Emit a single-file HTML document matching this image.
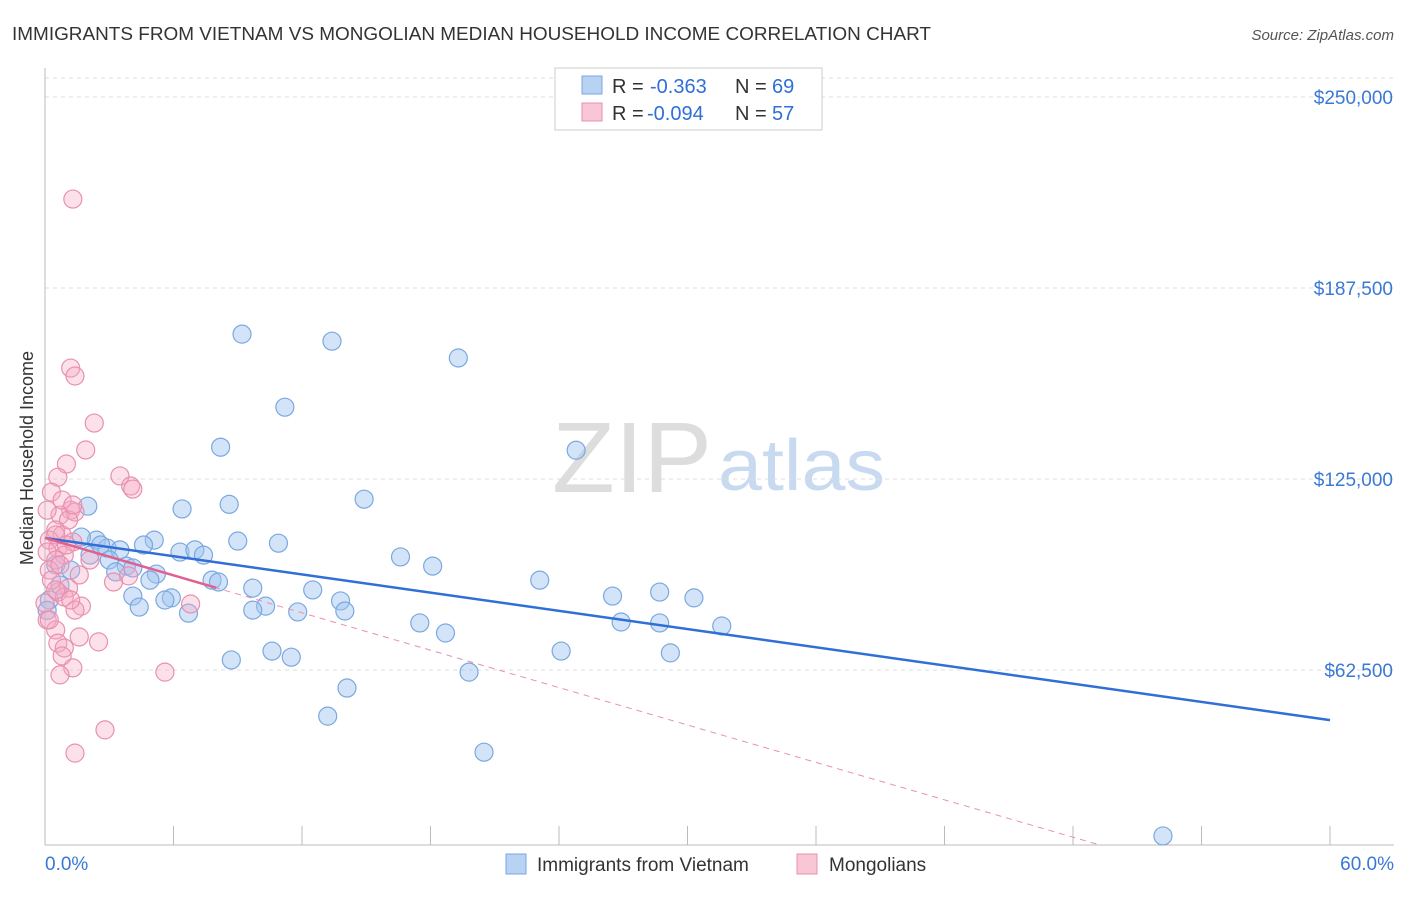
<!DOCTYPE html>
<html><head><meta charset="utf-8"><style>
body{margin:0;background:#fff;font-family:"Liberation Sans",sans-serif}
svg text{font-family:"Liberation Sans",sans-serif}
</style></head><body>
<svg id="chart" width="1406" height="892" xmlns="http://www.w3.org/2000/svg">
<text x="12" y="40" font-size="18.5" fill="#333" textLength="919" lengthAdjust="spacingAndGlyphs">IMMIGRANTS FROM VIETNAM VS MONGOLIAN MEDIAN HOUSEHOLD INCOME CORRELATION CHART</text>
<text x="1394" y="40" font-size="15" fill="#555" text-anchor="end" font-style="italic">Source: ZipAtlas.com</text>
<text x="33" y="458" font-size="18" fill="#333" text-anchor="middle" transform="rotate(-90 33 458)">Median Household Income</text>
<g><text x="552" y="492" font-size="100" fill="#ddd" font-family="Liberation Serif" textLength="160" lengthAdjust="spacingAndGlyphs">ZIP</text><text x="718" y="490" font-size="72" fill="#c8daf0" textLength="167" lengthAdjust="spacingAndGlyphs">atlas</text></g>
<g id="grid"></g><g id="marks"></g>
<g>
<rect x="555" y="68" width="267" height="62" fill="#fff" stroke="#ccc"/>
<rect x="582" y="76" width="20" height="18" fill="#b8d2f4" stroke="#7aa8e0"/>
<rect x="582" y="103" width="20" height="18" fill="#f9c6d6" stroke="#e890b0"/>
<text y="93" font-size="20" fill="#333"><tspan x="612">R = </tspan><tspan x="650" fill="#2f6fd6">-0.363</tspan><tspan x="735">N = </tspan><tspan x="772" fill="#2f6fd6">69</tspan></text>
<text y="120" font-size="20" fill="#333"><tspan x="612">R = </tspan><tspan x="647" fill="#2f6fd6">-0.094</tspan><tspan x="735">N = </tspan><tspan x="772" fill="#2f6fd6">57</tspan></text>
</g>
<g>
<rect x="506" y="854" width="20" height="20" fill="#b8d2f4" stroke="#7aa8e0"/>
<text x="537" y="871" font-size="19" fill="#333">Immigrants from Vietnam</text>
<rect x="797" y="854" width="20" height="20" fill="#f9c6d6" stroke="#e890b0"/>
<text x="829" y="871" font-size="19" fill="#333">Mongolians</text>
</g>
</svg>
<script>
const yTicks=[62500,125000,187500,250000];
const yTickLabels=["$62,500","$125,000","$187,500","$250,000"];
const xTicks=[0,6,12,18,24,30,36,42,48,54,60];
const blueX=[9.2,13.4,19.3,11.2,8.2,24.8,14.9,8.6,2.0,6.4,9.0,10.9,5.1,2.4,4.6,1.7,2.9,3.5,6.3,7.0,7.4,16.6,18.1,3.0,3.8,4.1,5.2,4.9,3.3,23.1,7.8,8.1,9.7,12.5,4.1,5.9,5.6,26.5,28.7,30.3,10.3,9.7,11.8,13.8,14.0,4.4,6.7,17.5,26.9,28.7,31.6,18.7,8.7,10.6,11.5,24.1,29.2,19.8,14.1,13.2,20.5,52.2,0.5,0.7,1.2,0.2,2.1,2.6,0.1];
const blueY=[172.4,170.1,164.6,148.5,135.4,134.4,118.4,116.7,116.1,115.2,104.7,104.0,105.0,105.0,103.4,106.0,102.4,101.8,101.1,101.8,100.1,99.5,96.5,98.5,96.5,95.9,93.9,91.9,94.6,91.9,91.9,91.3,89.3,88.7,86.7,86.1,85.4,86.7,88.0,86.1,83.4,82.1,81.5,85.1,81.8,83.1,81.1,77.9,78.2,77.9,76.9,74.6,65.8,68.7,66.7,68.7,68.1,61.8,56.6,47.4,35.6,8.2,96.9,90.3,95.2,85.4,100.1,103.4,82];
const pinkX=[1.3,1.2,1.4,2.3,1.9,1.0,0.6,3.5,4.0,4.1,0.3,1.2,1.4,0.7,1.1,0.5,0.8,0.2,1.3,0.6,0.1,0.9,0.5,1.6,3.9,3.2,1.1,0.6,0.9,6.8,1.7,1.4,0.1,0.5,1.6,2.5,0.6,0.9,0.8,1.3,5.6,2.8,1.4,0.2,0.3,0.7,1.2,0.0,0.5,1.0,2.1,0.1,0.8,1.3,0.5,0.2,0.7];
const pinkY=[216.6,161.3,158.7,143.3,134.5,129.9,125.6,126.0,122.7,121.7,120.7,114.8,114.2,113.2,111.6,108.3,106.7,105.0,104.4,102.4,101.1,100.1,98.5,93.6,93.3,91.3,89.3,88.0,86.4,84.1,83.4,82.1,78.9,75.6,73.3,71.7,71.3,69.7,67.1,63.2,61.8,42.9,35.3,95.2,91.9,96.9,85.4,84.4,106.7,103.4,98.5,114.8,118.1,116.5,88.7,78.9,60.9];
const blueTrend=[105.7,46.1];   // $k at 0% and 60%
const pinkTrend=[105.7,-2.04];  // intercept, slope per %
const NS="http://www.w3.org/2000/svg";
const X0=45,X1=1330,TOP=70,BOT=845;
const sx=v=>X0+v/60*(X1-X0);
const sy=v=>861-v/62.5*191;
const botVal=(861-BOT)/191*62.5;
function mk(t,a,p){const e=document.createElementNS(NS,t);for(const k in a)e.setAttribute(k,a[k]);p.appendChild(e);return e;}
const grid=document.getElementById('grid'),marks=document.getElementById('marks');
yTicks.forEach((t,i)=>{const y=sy(t/1000);
 const l=mk('line',{x1:X0,x2:1394,y1:y,y2:y,stroke:'#ddd','stroke-dasharray':'4,4'},grid);
 
 
 const tx=mk('text',{x:1393,y:y+7,'font-size':19,fill:'#3a78d6','text-anchor':'end'},grid);tx.textContent=yTickLabels[i];
 
 
});
mk('line',{x1:X0,x2:1394,y1:78,y2:78,stroke:'#ddd','stroke-dasharray':'4,4'},grid);
mk('line',{x1:X0,x2:X0,y1:68,y2:BOT,stroke:'#bbb'},grid);
const ax=mk('line',{x1:X0,x2:1394,y1:BOT,y2:BOT,stroke:'#bbb'},grid);


xTicks.forEach(t=>{const x=sx(t);mk('line',{x1:x,x2:x,y1:826,y2:BOT,stroke:'#bbb'},grid);});
const xl0=mk('text',{x:45,y:870,'font-size':19,fill:'#3a78d6'},grid);xl0.textContent='0.0%';


const xl1=mk('text',{x:1394,y:870,'font-size':19,fill:'#3a78d6','text-anchor':'end'},grid);xl1.textContent='60.0%';


blueX.forEach((v,i)=>{const c=mk('circle',{cx:sx(v),cy:sy(blueY[i]),r:9,fill:'rgba(160,195,240,0.45)',stroke:'#7aa8e0','stroke-width':1.2},marks);
 
 });
pinkX.forEach((v,i)=>{const c=mk('circle',{cx:sx(v),cy:sy(pinkY[i]),r:9,fill:'rgba(245,170,195,0.35)',stroke:'#e890b0','stroke-width':1.2},marks);
 
 });
const bl=mk('line',{x1:sx(0),y1:sy(blueTrend[0]),x2:sx(60),y2:sy(blueTrend[1]),stroke:'#2f6fd6','stroke-width':2.5},marks);


const pEnd=(botVal-pinkTrend[0])/pinkTrend[1];
const pd=mk('line',{x1:sx(0),y1:sy(pinkTrend[0]),x2:sx(pEnd),y2:sy(botVal),stroke:'#e890b0','stroke-width':1,'stroke-dasharray':'6,5'},marks);


const ps=mk('line',{x1:sx(0),y1:sy(pinkTrend[0]),x2:sx(8),y2:sy(pinkTrend[0]+pinkTrend[1]*8),stroke:'#e06090','stroke-width':2.5},marks);


</script>
</body></html>
